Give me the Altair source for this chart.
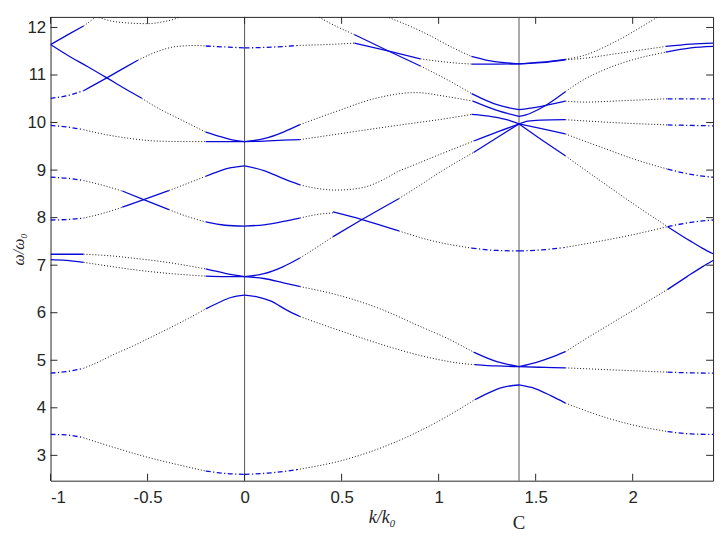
import altair as alt
import pandas as pd

# ---------------- axis ranges / ticks ----------------
X_MIN, X_MAX = -1.0, 2.41421
Y_MIN, Y_MAX = 2.467, 12.222
x_ticks = [-1, -0.5, 0, 0.5, 1, 1.5, 2]
y_ticks = [3, 4, 5, 6, 7, 8, 9, 10, 11, 12]
sym_lines = [0.0, 1.41421]
sym_labels = ["C"]
sym_label_pos = [1.41421]

# ---------------- band data ----------------
# each band: list of (style, [(k, w), ...]) pieces; style: dot / solid / dd (dash-dot)
# left segment  X(-1) -> Gamma(0)
band_L1 = [("dd", [(-1.0, 3.44), (-0.92, 3.43), (-0.83, 3.37)]),
           ("dot", [(-0.83, 3.37), (-0.70, 3.20), (-0.5, 2.96), (-0.33, 2.79), (-0.2, 2.67)]),
           ("dd", [(-0.2, 2.67), (-0.1, 2.62), (0.0, 2.60)])]
band_L2 = [("dd", [(-1.0, 4.73), (-0.92, 4.76), (-0.83, 4.83)]),
           ("dot", [(-0.83, 4.83), (-0.75, 4.97), (-0.67, 5.13), (-0.58, 5.29), (-0.5, 5.45),
                    (-0.38, 5.69), (-0.29, 5.88), (-0.2, 6.08)]),
           ("solid", [(-0.2, 6.08), (-0.13, 6.22), (-0.07, 6.32), (0.0, 6.37)])]
band_L3 = [("solid", [(-1.0, 7.115), (-0.92, 7.10), (-0.83, 7.06)]),
           ("dot", [(-0.83, 7.06), (-0.7, 6.98), (-0.58, 6.91), (-0.4, 6.83), (-0.2, 6.77)]),
           ("solid", [(-0.2, 6.77), (-0.1, 6.76), (0.0, 6.76)])]
band_L4 = [("solid", [(-1.0, 7.23), (-0.92, 7.23), (-0.83, 7.23)]),
           ("dot", [(-0.83, 7.23), (-0.7, 7.20), (-0.58, 7.15), (-0.4, 7.06), (-0.2, 6.92)]),
           ("solid", [(-0.2, 6.92), (-0.1, 6.83), (0.0, 6.76)])]
band_L5 = [("dd", [(-1.0, 7.95), (-0.92, 7.96), (-0.83, 7.99)]),
           ("dot", [(-0.83, 7.99), (-0.73, 8.09), (-0.63, 8.22)]),
           ("solid", [(-0.63, 8.22), (-0.52, 8.38), (-0.39, 8.57)]),
           ("dot", [(-0.39, 8.57), (-0.3, 8.71), (-0.2, 8.87)]),
           ("solid", [(-0.2, 8.87), (-0.13, 8.98), (-0.07, 9.05), (0.0, 9.09)])]
band_L6 = [("dd", [(-1.0, 8.85), (-0.92, 8.83), (-0.83, 8.78)]),
           ("dot", [(-0.83, 8.78), (-0.73, 8.68), (-0.63, 8.56)]),
           ("solid", [(-0.63, 8.56), (-0.52, 8.38), (-0.39, 8.17)]),
           ("dot", [(-0.39, 8.17), (-0.3, 8.03), (-0.2, 7.91)]),
           ("solid", [(-0.2, 7.91), (-0.1, 7.84), (0.0, 7.82)])]
band_L7 = [("dd", [(-1.0, 9.94), (-0.92, 9.91), (-0.83, 9.85)]),
           ("dot", [(-0.83, 9.85), (-0.72, 9.75), (-0.58, 9.66), (-0.45, 9.61), (-0.3, 9.60), (-0.2, 9.60)]),
           ("solid", [(-0.2, 9.60), (-0.1, 9.60), (0.0, 9.60)])]
band_L8 = [("solid", [(-1.0, 11.64), (-0.91, 11.41), (-0.81, 11.18), (-0.71, 10.94), (-0.62, 10.72), (-0.53, 10.51)]),
           ("dot", [(-0.53, 10.51), (-0.445, 10.30), (-0.343, 10.09), (-0.24, 9.88), (-0.2, 9.80)]),
           ("solid", [(-0.2, 9.80), (-0.13, 9.71), (-0.07, 9.64), (0.0, 9.60)])]
band_L9 = [("dd", [(-1.0, 10.51), (-0.92, 10.56), (-0.83, 10.67)]),
           ("solid", [(-0.83, 10.67), (-0.71, 10.94), (-0.62, 11.15), (-0.55, 11.31)]),
           ("dot", [(-0.55, 11.31), (-0.445, 11.50), (-0.35, 11.60), (-0.25, 11.62), (-0.2, 11.61)]),
           ("dd", [(-0.2, 11.61), (-0.1, 11.59), (0.0, 11.57)])]
band_L10 = [("solid", [(-1.0, 11.64), (-0.91, 11.85), (-0.83, 12.03)]),
            ("dot", [(-0.83, 12.03), (-0.78, 12.18), (-0.76, 12.25)])]
band_L11 = [("dot", [(-0.78, 12.25), (-0.68, 12.13), (-0.58, 12.09), (-0.5, 12.08), (-0.42, 12.12),
                     (-0.34, 12.21), (-0.32, 12.25)])]

# middle segment  Gamma(0) -> C
band_M1 = [("dd", [(0.0, 2.60), (0.1, 2.62), (0.2, 2.66), (0.27, 2.70)]),
           ("dot", [(0.27, 2.70), (0.5, 2.89), (0.73, 3.20), (1.0, 3.72), (1.186, 4.17)]),
           ("solid", [(1.186, 4.17), (1.25, 4.30), (1.33, 4.43), (1.41421, 4.48)])]
band_M2 = [("solid", [(0.0, 6.37), (0.07, 6.33), (0.133, 6.25), (0.22, 6.05), (0.285, 5.92)]),
           ("dot", [(0.285, 5.92), (0.45, 5.68), (0.61, 5.46), (0.78, 5.24), (0.98, 5.03), (1.15, 4.92),
                    (1.186, 4.91)]),
           ("solid", [(1.186, 4.91), (1.3, 4.88), (1.41421, 4.865)])]
band_M3 = [("solid", [(0.0, 6.76), (0.1, 6.72), (0.2, 6.63), (0.285, 6.55)]),
           ("dot", [(0.285, 6.55), (0.5, 6.35), (0.7, 6.08), (0.9, 5.72), (1.05, 5.45), (1.18, 5.17)]),
           ("solid", [(1.18, 5.17), (1.3, 4.97), (1.41421, 4.865)])]
band_M4 = [("solid", [(0.0, 6.76), (0.1, 6.82), (0.2, 6.97), (0.285, 7.15)]),
           ("dot", [(0.285, 7.15), (0.37, 7.37), (0.456, 7.60)]),
           ("solid", [(0.456, 7.60), (0.605, 7.96), (0.795, 8.40)]),
           ("dot", [(0.795, 8.40), (0.9, 8.67), (1.016, 8.98), (1.18, 9.37)]),
           ("solid", [(1.18, 9.37), (1.3, 9.68), (1.41421, 9.97)])]
band_M5 = [("solid", [(0.0, 7.82), (0.1, 7.85), (0.2, 7.92), (0.285, 7.99)]),
           ("dot", [(0.285, 7.99), (0.38, 8.07), (0.456, 8.10)]),
           ("solid", [(0.456, 8.12), (0.605, 7.96), (0.795, 7.72)]),
           ("dot", [(0.795, 7.72), (0.98, 7.50), (1.17, 7.36)]),
           ("dd", [(1.17, 7.36), (1.3, 7.31), (1.41421, 7.30)])]
band_M6 = [("solid", [(0.0, 9.09), (0.107, 8.98), (0.2, 8.82), (0.285, 8.69)]),
           ("dot", [(0.285, 8.69), (0.38, 8.61), (0.472, 8.58), (0.56, 8.60), (0.642, 8.67), (0.72, 8.81),
                    (0.795, 8.98), (0.85, 9.07), (1.0, 9.32), (1.18, 9.61)]),
           ("solid", [(1.18, 9.61), (1.3, 9.80), (1.41421, 9.97)])]
band_M7 = [("solid", [(0.0, 9.60), (0.1, 9.61), (0.2, 9.63), (0.285, 9.64)]),
           ("dot", [(0.285, 9.64), (0.55, 9.80), (0.812, 9.955), (1.0, 10.06), (1.17, 10.17)]),
           ("solid", [(1.17, 10.17), (1.28, 10.12), (1.36, 10.05), (1.41421, 9.97)])]
band_M8 = [("solid", [(0.0, 9.60), (0.1, 9.66), (0.2, 9.80), (0.285, 9.955)]),
           ("dot", [(0.285, 9.955), (0.47, 10.23), (0.676, 10.51), (0.88, 10.63), (1.05, 10.54), (1.177, 10.45)]),
           ("solid", [(1.177, 10.45), (1.305, 10.25), (1.41421, 10.13)])]
band_M9 = [("dot", [(0.37, 12.25), (0.45, 12.07), (0.566, 11.85)]),
           ("solid", [(0.566, 11.85), (0.744, 11.50), (0.906, 11.19)]),
           ("dot", [(0.906, 11.19), (1.067, 10.85), (1.17, 10.61)]),
           ("solid", [(1.17, 10.61), (1.305, 10.37), (1.41421, 10.27)])]
band_M10 = [("dd", [(0.0, 11.57), (0.1, 11.58), (0.2, 11.60), (0.269, 11.62)]),
            ("dot", [(0.269, 11.62), (0.472, 11.65), (0.566, 11.67)]),
            ("solid", [(0.566, 11.67), (0.744, 11.50), (0.906, 11.34)]),
            ("dot", [(0.906, 11.34), (1.067, 11.26), (1.17, 11.23)]),
            ("solid", [(1.17, 11.23), (1.3, 11.23), (1.41421, 11.235)])]
band_M11 = [("dot", [(0.73, 12.23), (0.85, 12.03), (0.95, 11.84), (1.06, 11.60), (1.169, 11.39)]),
            ("solid", [(1.169, 11.39), (1.25, 11.31), (1.339, 11.26), (1.41421, 11.235)])]

# right segment  C -> X(1+sqrt2)
band_R1 = [("solid", [(1.41421, 4.48), (1.5, 4.40), (1.58, 4.25), (1.653, 4.10)]),
           ("dot", [(1.653, 4.10), (1.865, 3.79), (2.0, 3.64), (2.18, 3.50)]),
           ("dd", [(2.18, 3.50), (2.3, 3.45), (2.41421, 3.44)])]
band_R2 = [("solid", [(1.41421, 4.865), (1.55, 4.85), (1.653, 4.84)]),
           ("dot", [(1.653, 4.84), (2.0, 4.78), (2.18, 4.75)]),
           ("dd", [(2.18, 4.75), (2.3, 4.735), (2.41421, 4.73)])]
band_R3 = [("solid", [(1.41421, 4.865), (1.5, 4.95), (1.58, 5.06), (1.653, 5.18)]),
           ("dot", [(1.653, 5.18), (1.75, 5.43), (1.9, 5.80), (2.05, 6.17), (2.18, 6.49)]),
           ("solid", [(2.18, 6.49), (2.28, 6.76), (2.36, 6.97), (2.41421, 7.10)])]
band_R4 = [("dd", [(1.41421, 7.30), (1.53, 7.32), (1.645, 7.37)]),
           ("dot", [(1.645, 7.37), (1.865, 7.53), (2.0, 7.64), (2.18, 7.81)]),
           ("dd", [(2.18, 7.81), (2.3, 7.90), (2.41421, 7.95)])]
band_R5 = [("solid", [(1.41421, 9.97), (1.53, 9.64), (1.653, 9.30)]),
           ("dot", [(1.653, 9.30), (1.832, 8.78), (2.0, 8.30), (2.18, 7.81)]),
           ("solid", [(2.18, 7.81), (2.3, 7.50), (2.358, 7.36), (2.41421, 7.24)])]
band_R6 = [("solid", [(1.41421, 9.97), (1.53, 9.87), (1.653, 9.76)]),
           ("dot", [(1.653, 9.76), (1.865, 9.44), (2.0, 9.24), (2.18, 9.02)]),
           ("dd", [(2.18, 9.02), (2.3, 8.91), (2.41421, 8.85)])]
band_R7 = [("solid", [(1.41421, 9.97), (1.46, 10.03), (1.53, 10.05), (1.653, 10.06)]),
           ("dot", [(1.653, 10.06), (1.9, 10.00), (2.18, 9.95)]),
           ("dd", [(2.18, 9.95), (2.3, 9.94), (2.41421, 9.93)])]
band_R8 = [("solid", [(1.41421, 10.27), (1.5, 10.32), (1.653, 10.45)]),
           ("dot", [(1.653, 10.45), (1.75, 10.43), (1.95, 10.46), (2.18, 10.50)]),
           ("dd", [(2.18, 10.50), (2.3, 10.50), (2.41421, 10.50)])]
band_R9 = [("solid", [(1.41421, 10.13), (1.45, 10.16), (1.526, 10.30), (1.653, 10.65)]),
           ("dot", [(1.653, 10.65), (1.747, 10.90), (1.865, 11.13), (2.0, 11.32), (2.17, 11.48)]),
           ("solid", [(2.17, 11.48), (2.3, 11.57), (2.41421, 11.60)])]
band_R10 = [("solid", [(1.41421, 11.235), (1.53, 11.26), (1.653, 11.32)]),
            ("dot", [(1.653, 11.32), (1.747, 11.35), (1.9, 11.44), (2.05, 11.53), (2.17, 11.60)]),
            ("solid", [(2.17, 11.60), (2.3, 11.65), (2.41421, 11.67)])]
band_R11 = [("solid", [(1.41421, 11.235), (1.53, 11.27), (1.653, 11.33)]),
            ("dot", [(1.653, 11.33), (1.747, 11.41), (1.9, 11.68), (2.04, 12.0), (2.14, 12.25)])]

all_bands = [band_L1, band_L2, band_L3, band_L4, band_L5, band_L6, band_L7, band_L8, band_L9,
             band_L10, band_L11,
             band_M1, band_M2, band_M3, band_M4, band_M5, band_M6, band_M7, band_M8, band_M9,
             band_M10, band_M11,
             band_R1, band_R2, band_R3, band_R4, band_R5, band_R6, band_R7, band_R8, band_R9,
             band_R10, band_R11]

rows = []
for bi, band in enumerate(all_bands):
    for si, (style, pts) in enumerate(band):
        for oi, (kx, wy) in enumerate(pts):
            rows.append({"seg": f"{bi}_{si}", "style": style, "o": oi, "k": kx, "w": wy})
df = pd.DataFrame(rows)

# ---------------- chart ----------------
W, H = 670, 469
TXT = "#262626"
BLUE = "#0a0ad8"

xs = alt.Scale(domain=[X_MIN, X_MAX], nice=False, zero=False)
ys = alt.Scale(domain=[Y_MIN, Y_MAX], nice=False, zero=False)

x_axis = alt.Axis(values=x_ticks, labelExpr="'' + datum.value", ticks=False, domain=False, grid=False,
                  labelFont="Liberation Sans", labelFontSize=17, labelColor=TXT, labelPadding=9,
                  title="k/k₀", titleFont="Liberation Serif", titleFontStyle="italic",
                  titleFontWeight="normal", titleFontSize=18, titleColor=TXT, titlePadding=3)
y_axis = alt.Axis(values=y_ticks, ticks=False, domain=False, grid=False,
                  labelFont="Liberation Sans", labelFontSize=17, labelColor=TXT, labelPadding=5,
                  title="ω/ω₀", titleFont="Liberation Serif", titleFontStyle="italic",
                  titleFontWeight="normal", titleFontSize=16, titleColor=TXT, titlePadding=0)

def xenc(field="k"):
    return alt.X(f"{field}:Q", scale=xs, axis=x_axis)

def yenc(field="w"):
    return alt.Y(f"{field}:Q", scale=ys, axis=y_axis)

def band_layer(style, color, width, dash=None):
    kw = dict(interpolate="monotone", clip=True, color=color, strokeWidth=width)
    if dash is not None:
        kw["strokeDash"] = dash
    return alt.Chart(df[df["style"] == style]).mark_line(**kw).encode(
        x=xenc(), y=yenc(), detail="seg:N", order="o:Q")

sym_df = pd.DataFrame({"k": sym_lines})
vlines = alt.Chart(sym_df).mark_rule(color="#555555", strokeWidth=1).encode(x=xenc())

dotted = band_layer("dot", "#111111", 1.0, [1, 2])
solid = band_layer("solid", BLUE, 1.3)
dashdot = band_layer("dd", BLUE, 1.3, [5, 2.5, 1.2, 2.5])

xt_df = pd.DataFrame({"k": x_ticks})
yt_df = pd.DataFrame({"w": y_ticks})
TL = 7
ticks_bottom = alt.Chart(xt_df).mark_rule(color=TXT, strokeWidth=1).encode(
    x=xenc(), y=alt.value(H), y2=alt.value(H - TL))
ticks_top = alt.Chart(xt_df).mark_rule(color=TXT, strokeWidth=1).encode(
    x=xenc(), y=alt.value(0), y2=alt.value(TL))
ticks_left = alt.Chart(yt_df).mark_rule(color=TXT, strokeWidth=1).encode(
    y=yenc(), x=alt.value(0), x2=alt.value(TL))
ticks_right = alt.Chart(yt_df).mark_rule(color=TXT, strokeWidth=1).encode(
    y=yenc(), x=alt.value(W), x2=alt.value(W - TL))

sym_lab_df = pd.DataFrame({"k": sym_label_pos, "label": sym_labels})
sym_text = alt.Chart(sym_lab_df).mark_text(font="Liberation Serif", fontSize=19, color=TXT,
                                           baseline="middle", align="center").encode(
    x=xenc(), y=alt.value(H + 43), text="label:N")

chart = alt.layer(vlines, dotted, solid, dashdot, ticks_bottom, ticks_top, ticks_left, ticks_right,
                  sym_text).properties(
    width=W, height=H,
    autosize=alt.AutoSizeParams(type="none"),
    padding={"left": 43, "top": 6, "right": 6, "bottom": 60},
).configure_view(stroke=TXT, strokeWidth=1)

chart.save("out.html", embed_options={"renderer": "svg", "actions": False})
